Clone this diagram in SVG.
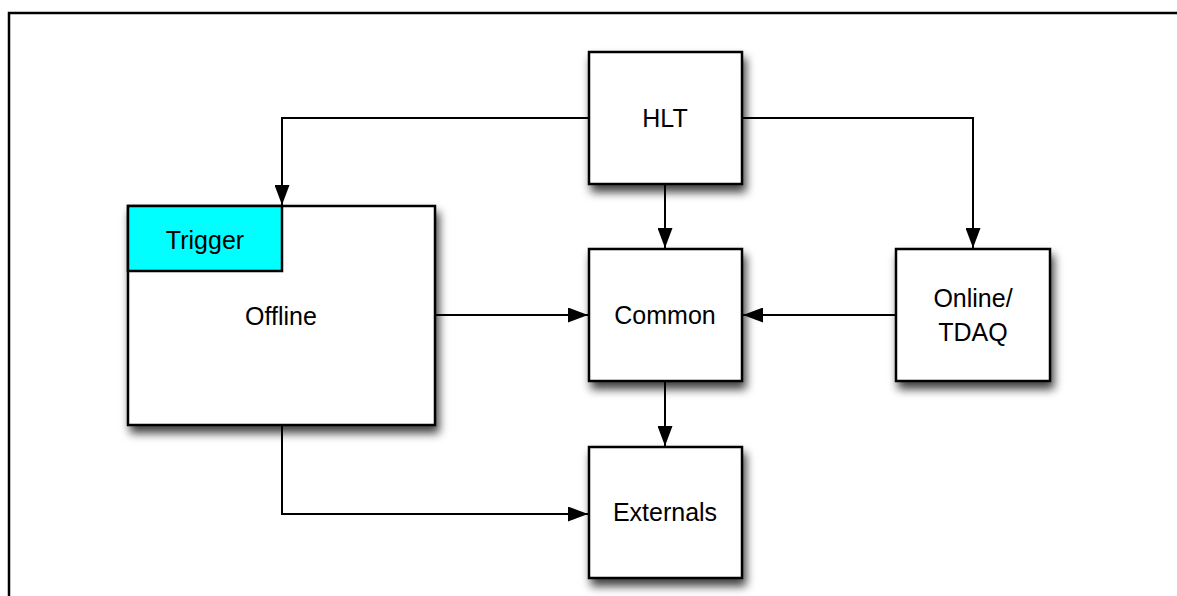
<svg xmlns="http://www.w3.org/2000/svg" width="1177" height="596" viewBox="0 0 1177 596">
  <style>
    .box { fill: #ffffff; stroke: #000000; stroke-width: 2.5; }
    .trig { fill: #00ffff; stroke: #000000; stroke-width: 2.5; }
    .lbl { font-family: "Liberation Sans", Arial, sans-serif; font-size: 25px; fill: #000000; text-anchor: middle; }
    .conn { fill: none; stroke: #000000; stroke-width: 2; }
  </style>
  <defs>
    <filter id="shadow" x="-25%" y="-25%" width="160%" height="160%">
      <feDropShadow dx="3" dy="7" stdDeviation="5" flood-color="#000000" flood-opacity="0.75"/>
    </filter>
    <marker id="arrow" markerWidth="20" markerHeight="15" refX="20" refY="7.5" orient="auto" markerUnits="userSpaceOnUse" viewBox="0 0 20 15">
      <path d="M0,0 L20,7.5 L0,15 Z" fill="#000000"/>
    </marker>
  </defs>
  <rect x="0" y="0" width="1177" height="596" fill="#ffffff"/>
  <path d="M9,596 L9,13 L1177,13" fill="none" stroke="#000000" stroke-width="2.5"/>

  <g id="connectors">
    <path class="conn" d="M589,118 L282,118 L282,205" marker-end="url(#arrow)"/>
    <path class="conn" d="M742,118 L973,118 L973,248" marker-end="url(#arrow)"/>
    <path class="conn" d="M665,184 L665,248" marker-end="url(#arrow)"/>
    <path class="conn" d="M435,315 L588,315" marker-end="url(#arrow)"/>
    <path class="conn" d="M896,315 L743,315" marker-end="url(#arrow)"/>
    <path class="conn" d="M665,381 L665,446" marker-end="url(#arrow)"/>
    <path class="conn" d="M282,425 L282,514 L588,514" marker-end="url(#arrow)"/>
  </g>

  <g id="offline">
    <rect class="box" x="128" y="206" width="307" height="219" filter="url(#shadow)"/>
    <text class="lbl" x="281" y="325">Offline</text>
  </g>
  <g id="trigger">
    <rect class="trig" x="128" y="206" width="154" height="65"/>
    <text class="lbl" x="205" y="249">Trigger</text>
  </g>
  <g id="hlt">
    <rect class="box" x="589" y="52" width="153" height="132" filter="url(#shadow)"/>
    <text class="lbl" x="665" y="127">HLT</text>
  </g>
  <g id="common">
    <rect class="box" x="589" y="249" width="153" height="132" filter="url(#shadow)"/>
    <text class="lbl" x="665" y="324">Common</text>
  </g>
  <g id="online">
    <rect class="box" x="896" y="249" width="154" height="132" filter="url(#shadow)"/>
    <text class="lbl" x="973" y="307">Online/</text>
    <text class="lbl" x="973" y="341">TDAQ</text>
  </g>
  <g id="externals">
    <rect class="box" x="589" y="447" width="153" height="131" filter="url(#shadow)"/>
    <text class="lbl" x="665" y="521">Externals</text>
  </g>
</svg>
